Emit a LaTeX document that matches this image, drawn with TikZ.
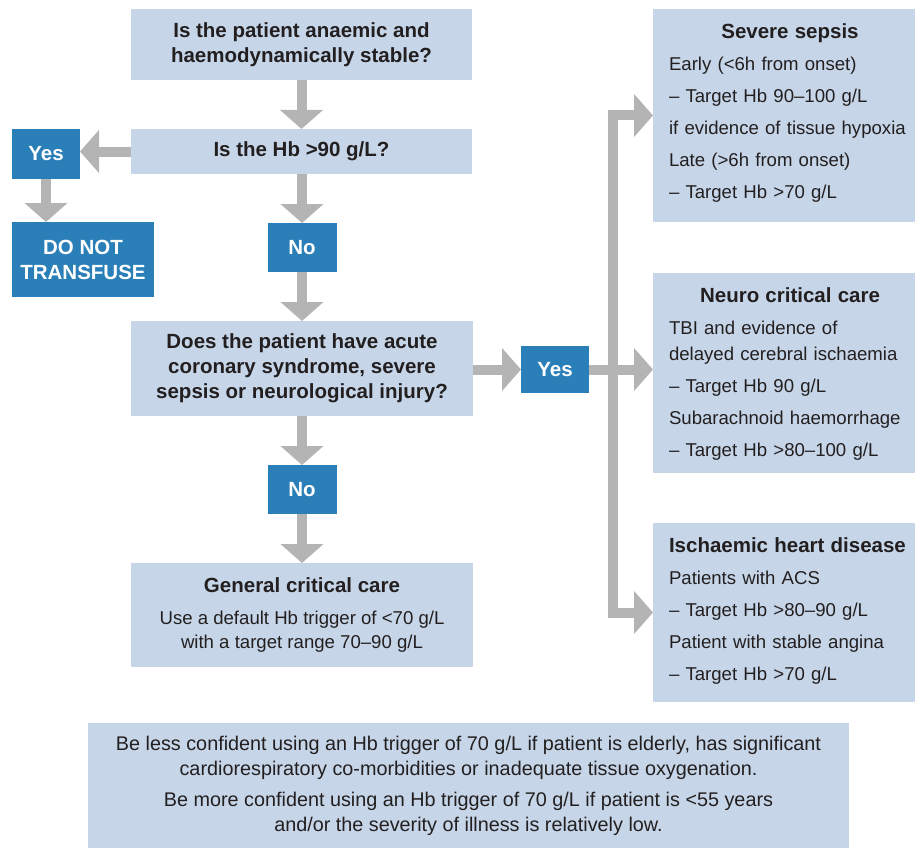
\documentclass[tikz,border=0pt]{standalone}
\usepackage{fontspec}
\setmainfont{Liberation Sans}
\usetikzlibrary{arrows.meta}
\definecolor{lb}{HTML}{C6D6E8}
\definecolor{db}{HTML}{2A7FB8}
\definecolor{ag}{HTML}{B4B4B4}
\definecolor{tx}{HTML}{231F20}
\newcommand\hdf{\fontsize{20.5}{25}\selectfont\bfseries}
\newcommand\bdf{\fontsize{18.6}{32}\selectfont}
\newcommand\ftf{\fontsize{19.8}{25}\selectfont}
\begin{document}
\begin{tikzpicture}[x=1pt,y=-1pt,
  lbox/.style={fill=lb, inner sep=0pt, outer sep=0pt, text=tx, font=\hdf, align=center},
  dbox/.style={fill=db, inner sep=0pt, outer sep=0pt, text=white, font=\hdf, align=center},
  rbox/.style={fill=lb, inner sep=0pt, outer sep=0pt, minimum width=262pt},
  rtext/.style={inner sep=0pt, outer sep=0pt, text=tx, font=\bdf, align=left, text width=246pt, anchor=west},
  arr/.style={draw=ag, line width=10pt, line join=miter, -{Triangle[width=42pt,length=19pt]}}]
\useasboundingbox (0,0) rectangle (915,848);
% left column
\node[lbox, minimum width=341pt, minimum height=71pt] (q1) at (301.5,44.5) {Is the patient anaemic and\\haemodynamically stable?};
\node[lbox, minimum width=341pt, minimum height=45pt] (q2) at (301.5,151.5) {Is the Hb >90 g/L?};
\node[dbox, minimum width=68pt, minimum height=50pt] (yes1) at (46,154) {Yes};
\node[dbox, minimum width=142pt, minimum height=75pt] (dnt) at (83,259.5) {DO NOT\\TRANSFUSE};
\node[dbox, minimum width=69pt, minimum height=49pt] (no1) at (302,247.5) {No};
\node[lbox, minimum width=342pt, minimum height=95pt] (q3) at (302,368.5) {Does the patient have acute\\coronary syndrome, severe\\sepsis or neurological injury?};
\node[dbox, minimum width=69pt, minimum height=49pt] (no2) at (302,489.5) {No};
\node[lbox, minimum width=342pt, minimum height=104pt, font=\fontsize{18.6}{24}\selectfont] (gen) at (302,615) {{\hdf General critical care}\\[8pt]Use a default Hb trigger of <70 g/L\\with a target range 70--90 g/L};
% right column
\node[dbox, minimum width=68pt, minimum height=47pt] (yes2) at (555,369.5) {Yes};
\node[rbox, minimum height=213pt] (sepsis) at (784,115.5) {};
\node[rbox, minimum height=200pt] (neuro) at (784,373) {};
\node[rbox, minimum height=179pt] (isch) at (784,612.5) {};
\node[rtext] (sepsis-t) at (669,113.5) {\makebox[242pt][c]{\hdf Severe sepsis}\\Early (<6h from onset)\\-- Target Hb 90--100 g/L\\if evidence of tissue hypoxia\\Late (>6h from onset)\\-- Target Hb >70 g/L};
\node[rtext] (neuro-t) at (669,374) {\makebox[242pt][c]{\hdf Neuro critical care}\\TBI and evidence of\\[-6pt]delayed cerebral ischaemia\\-- Target Hb 90 g/L\\Subarachnoid haemorrhage\\-- Target Hb >80--100 g/L};
\node[rtext] (isch-t) at (669,611) {{\hdf Ischaemic heart disease}\\Patients with ACS\\-- Target Hb >80--90 g/L\\Patient with stable angina\\-- Target Hb >70 g/L};
% footer
\node[lbox, minimum width=761pt, minimum height=126pt, font=\ftf] (foot) at (468.5,786) {Be less confident using an Hb trigger of 70 g/L if patient is elderly, has significant\\cardiorespiratory co-morbidities or inadequate tissue oxygenation.\\[6pt]Be more confident using an Hb trigger of 70 g/L if patient is <55 years\\and/or the severity of illness is relatively low.};
% connectors
\draw[arr] (q1) -- (q2);
\draw[arr] (q2.west) -- (q2.west -| yes1.east);
\draw[arr] (yes1) -- (yes1 |- dnt.north);
\draw[arr] (q2.south -| no1) -- (no1.north);
\draw[arr] (no1) -- (no1 |- q3.north);
\draw[arr] (q3.south -| no2) -- (no2.north);
\draw[arr] (no2) -- (no2 |- gen.north);
\draw[arr] (q3.east |- yes2) -- (yes2.west);
\coordinate (br) at (613,369.5);
\draw[arr] (yes2.east) -- (yes2.east -| neuro.west);
\draw[arr] (br) |- (sepsis.west);
\draw[arr] (br) |- (isch.west);
\end{tikzpicture}
\end{document}
